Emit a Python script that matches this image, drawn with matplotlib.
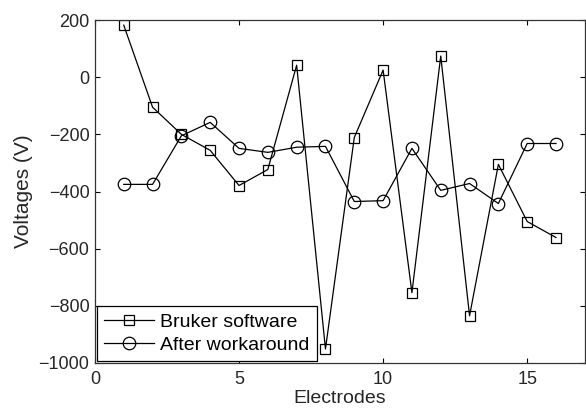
"""Electrode voltages: Bruker software vs. after workaround."""

import matplotlib
matplotlib.use("Agg")
import matplotlib.pyplot as plt

plt.rcParams['font.family'] = ['Liberation Sans', 'DejaVu Sans']

electrodes = list(range(1, 17))
bruker = [182, -105, -200, -256, -379, -323, 42, -951,
          -211, 25, -754, 74, -835, -305, -505, -561]
workaround = [-375, -375, -205, -158, -249, -263, -245, -242,
              -435, -432, -249, -396, -372, -442, -232, -232]

fig = plt.figure(figsize=(5.86, 4.09), dpi=100)
ax = fig.add_axes([0.162, 0.1125, 0.836, 0.8385])

ax.plot(electrodes, bruker, color='black', linewidth=0.9, marker='s',
        markersize=7.5, markerfacecolor='none', markeredgecolor='black',
        markeredgewidth=0.9, label='Bruker software')
ax.plot(electrodes, workaround, color='black', linewidth=0.9, marker='o',
        markersize=9, markerfacecolor='none', markeredgecolor='black',
        markeredgewidth=0.9, label='After workaround')

ax.set_xlim(0, 17)
ax.set_ylim(-1000, 200)
ax.set_xticks([0, 5, 10, 15])
ax.set_yticks(range(-1000, 201, 200))

# ticks inside on all four sides
ax.tick_params(direction='in', length=3.5, width=0.8, top=True, right=True,
               labelsize=13, labelcolor='#262626', pad=4)
ax.tick_params(axis='x', pad=6)
for s in ax.spines.values():
    s.set_linewidth(0.9)
    s.set_color('#333333')

ax.set_xlabel('Electrodes', fontsize=14, color='#262626', labelpad=1)
ax.set_ylabel('Voltages (V)', fontsize=15, color='#262626', labelpad=4)

leg = ax.legend(loc='lower left', numpoints=1, fontsize=14, fancybox=False,
                edgecolor='black', framealpha=1, borderaxespad=0.1,
                handlelength=2.6, handletextpad=0.32, labelspacing=0.3,
                borderpad=0.35)
leg.get_frame().set_linewidth(0.9)

fig.savefig('out.png', dpi=100)
